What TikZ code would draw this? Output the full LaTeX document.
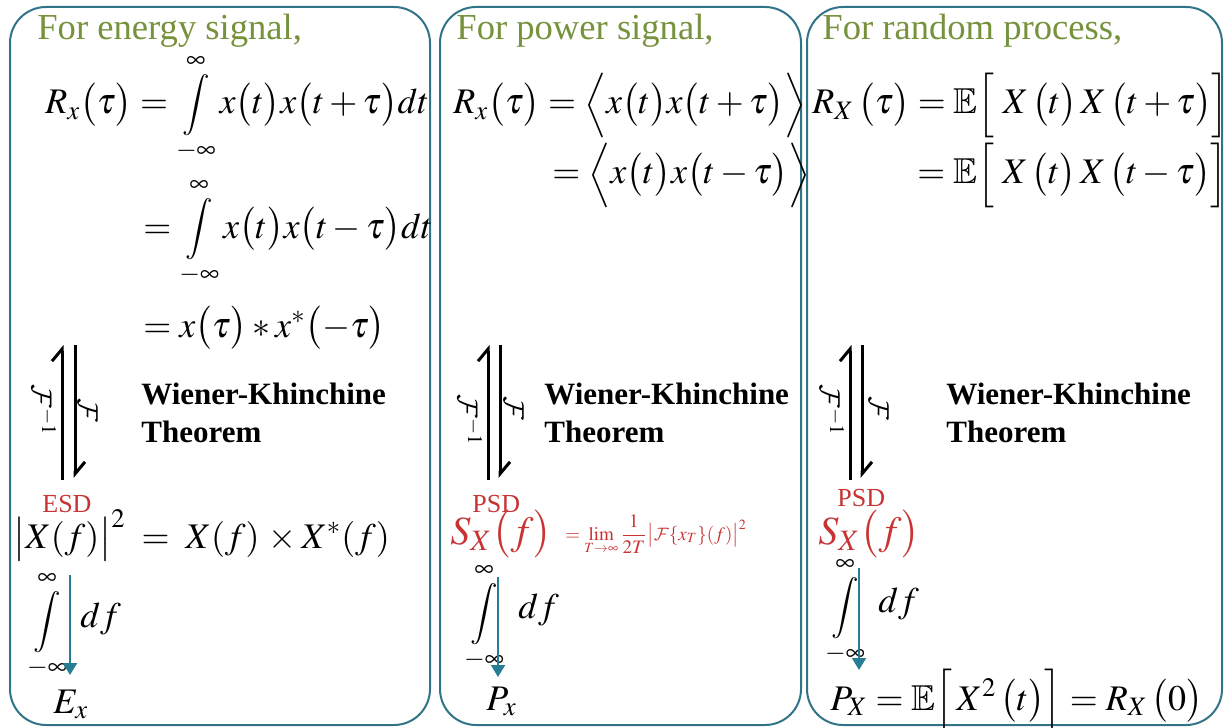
\documentclass[tikz,border=0pt]{standalone}
\usepackage{amsmath,amssymb}
\usepackage{mathptmx}
\usepackage{graphicx}
\usepackage{fontspec}
\setmainfont{Liberation Serif}
\DeclareMathAlphabet{\mathcal}{OMS}{cmsy}{m}{n}
\usetikzlibrary{arrows.meta}
\definecolor{wkTeal}{RGB}{49,115,135}
\definecolor{wkArrow}{RGB}{38,125,148}
\definecolor{wkOlive}{RGB}{118,146,60}
\definecolor{wkRed}{RGB}{200,52,52}
\newcommand{\wkint}{\mathop{\vcenter{\hbox{\scalebox{0.85}{$\displaystyle\int$}}}}\limits}

\begin{document}
\begin{tikzpicture}[
    x=0.5pt, y=-0.5pt,
    panel box/.style={draw=wkTeal, line width=1pt, rounded corners=18pt},
    title text/.style={anchor=base west, inner sep=0pt, text=wkOlive, font=\fontsize{18.3}{22}\selectfont},
    eq text/.style={anchor=base west, inner sep=0pt, font=\fontsize{18}{22}\selectfont},
    red note/.style={anchor=base west, inner sep=0pt, text=wkRed, font=\fontsize{13}{15}\selectfont},
    wk text/.style={anchor=base west, inner sep=0pt, align=left, font=\fontsize{15.5}{19}\selectfont\bfseries},
    op label/.style={inner sep=0pt, rotate=-90, font=\fontsize{14}{16}\selectfont},
    int sign/.style={inner sep=0pt, font=\fontsize{18}{22}\selectfont},
    flip arrow/.style={line width=1.5pt, -{Straight Barb[harpoon, length=6pt, width=10pt]}},
    sum arrow/.style={draw=wkArrow, line width=1pt, -{Triangle[length=6pt, width=7pt]}}
]
  \useasboundingbox (0,0) rectangle (1224,727);

  % the three panels
  \draw[panel box] (10,7) rectangle (430,725);
  \draw[panel box] (440,7) rectangle (801,725);
  \draw[panel box] (807,7) rectangle (1222,725);

  % energy signal
  \node[title text] (ttlE) at (37,40) {For energy signal,};
  \node[eq text] (eqE1) at (45,114) {$R_x\bigl(\tau\bigr)=\displaystyle\wkint_{-\infty}^{\infty}x\bigl(t\bigr)x\bigl(t+\tau\bigr)dt$};
  \node[eq text] (eqE2) at (143,238) {$=\displaystyle\wkint_{-\infty}^{\infty}x\bigl(t\bigr)x\bigl(t-\tau\bigr)dt$};
  \node[eq text] (eqE3) at (143,337) {$=x\bigl(\tau\bigr)*x^{*}\bigl(-\tau\bigr)$};

  \coordinate (invBotE) at (62,480);
  \coordinate (invTopE) at (62,345);
  \coordinate (fwdTopE) at (75,345);
  \coordinate (fwdBotE) at (75,478);
  \draw[flip arrow] (invBotE) -- (invTopE);
  \draw[flip arrow] (fwdTopE) -- (fwdBotE);
  \node[op label] (invE) at (44,410) {$\mathcal{F}^{-1}$};
  \node[op label] (fwdE) at (88,410) {$\mathcal{F}$};
  \node[wk text] (wkE) at (141,442) {Wiener-Khinchine\\Theorem};

  \node[red note] (esd) at (42,512) {ESD};
  \node[eq text] (specE) at (13,548) {$\bigl|X(f)\bigr|^{2}\;=\;X(f)\,\times X^{*}(f)$};
  \node[int sign] (intE) at (47,625) {$\displaystyle\wkint_{-\infty}^{\infty}$};
  \node[eq text] (dfE) at (80,627) {$df$};
  \coordinate (sumTopE) at (70,575);
  \coordinate (sumEndE) at (70,675);
  \draw[sum arrow] (sumTopE) -- (sumEndE);
  \node[eq text] (Ex) at (53,713) {$E_x$};

  % power signal
  \node[title text] (ttlP) at (456,40) {For power signal,};
  \node[eq text] (eqP1) at (453,114) {$R_x\bigl(\tau\bigr)=\Bigl\langle x\bigl(t\bigr)x\bigl(t+\tau\bigr)\Bigr\rangle$};
  \node[eq text] (eqP2) at (552,184) {$=\Bigl\langle x\bigl(t\bigr)x\bigl(t-\tau\bigr)\Bigr\rangle$};

  \coordinate (invBotP) at (488,480);
  \coordinate (invTopP) at (488,345);
  \coordinate (fwdTopP) at (500,345);
  \coordinate (fwdBotP) at (500,478);
  \draw[flip arrow] (invBotP) -- (invTopP);
  \draw[flip arrow] (fwdTopP) -- (fwdBotP);
  \node[op label] (invP) at (470,420) {$\mathcal{F}^{-1}$};
  \node[op label] (fwdP) at (514,408) {$\mathcal{F}$};
  \node[wk text] (wkP) at (544,442) {Wiener-Khinchine\\Theorem};

  \node[red note] (psdP) at (472,512) {PSD};
  \node[eq text, text=wkRed, font=\fontsize{20}{24}\selectfont] (specP) at (450,544) {$S_X\bigl(f\bigr)$};
  \node[eq text, text=wkRed, font=\fontsize{9.5}{11}\selectfont] (limP) at (565,540) {$=\lim\limits_{T\to\infty}\dfrac{1}{2T}\bigl|\mathcal{F}\{x_T\}(f)\bigr|^{2}$};
  \node[int sign] (intP) at (484,617) {$\displaystyle\wkint_{-\infty}^{\infty}$};
  \node[eq text] (dfP) at (518,618) {$df$};
  \coordinate (sumTopP) at (498,577);
  \coordinate (sumEndP) at (498,677);
  \draw[sum arrow] (sumTopP) -- (sumEndP);
  \node[eq text] (Px) at (486,710) {$P_x$};

  % random process
  \node[title text] (ttlR) at (822,40) {For random process,};
  \node[eq text] (eqR1) at (812,114) {$R_X\,\bigl(\tau\bigr)=\mathbb{E}\Bigl[\;X\,\bigl(t\bigr)\,X\,\bigl(t+\tau\bigr)\Bigr]$};
  \node[eq text] (eqR2) at (917,184) {$=\mathbb{E}\Bigl[\;X\,\bigl(t\bigr)\,X\,\bigl(t-\tau\bigr)\Bigr]$};

  \coordinate (invBotR) at (850,480);
  \coordinate (invTopR) at (850,345);
  \coordinate (fwdTopR) at (862,345);
  \coordinate (fwdBotR) at (862,478);
  \draw[flip arrow] (invBotR) -- (invTopR);
  \draw[flip arrow] (fwdTopR) -- (fwdBotR);
  \node[op label] (invR) at (832,410) {$\mathcal{F}^{-1}$};
  \node[op label] (fwdR) at (879,408) {$\mathcal{F}$};
  \node[wk text] (wkR) at (946,442) {Wiener-Khinchine\\Theorem};

  \node[red note] (psdR) at (837,506) {PSD};
  \node[eq text, text=wkRed, font=\fontsize{20}{24}\selectfont] (specR) at (818,544) {$S_X\bigl(f\bigr)$};
  \node[int sign] (intR) at (845,611) {$\displaystyle\wkint_{-\infty}^{\infty}$};
  \node[eq text] (dfR) at (878,612) {$df$};
  \coordinate (sumTopR) at (859,568);
  \coordinate (sumEndR) at (859,670);
  \draw[sum arrow] (sumTopR) -- (sumEndR);
  \node[eq text] (PX) at (830,710) {$P_X=\mathbb{E}\Bigl[\,X^{2}\,\bigl(t\bigr)\Bigr]=R_X\,\bigl(0\bigr)$};
\end{tikzpicture}
\end{document}
